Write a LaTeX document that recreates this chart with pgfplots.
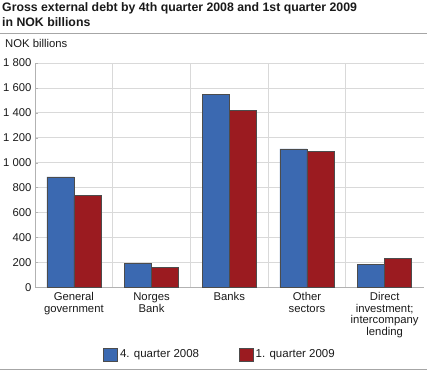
\documentclass[border=0pt]{standalone}
\usepackage{pgfplots}
\pgfplotsset{compat=1.18}
\usepackage{fontspec}
\setmainfont{Liberation Sans}
\definecolor{qblue}{HTML}{3B69B1}
\definecolor{qred}{HTML}{9B1B20}
\definecolor{gridc}{HTML}{D9D9D9}
\definecolor{txt}{HTML}{1A1A1A}
\begin{document}
\begin{tikzpicture}
\useasboundingbox (0,0) rectangle (427pt,-371pt);
\node[anchor=base west, font=\bfseries\fontsize{12.3}{15.4}\selectfont, inner sep=0pt, text=txt] at (2pt,-11.3pt) {Gross external debt by 4th quarter 2008 and 1st quarter 2009};
\node[anchor=base west, font=\bfseries\fontsize{12.3}{15.4}\selectfont, inner sep=0pt, text=txt] at (2pt,-26.7pt) {in NOK billions};
\draw[gray!70, line width=1pt] (0pt,-33.5pt) -- (427pt,-33.5pt);
\draw[gray!70, line width=1pt] (0pt,-369pt) -- (427pt,-369pt);
\node[anchor=base west, font=\fontsize{11.3}{12}\selectfont, inner sep=0pt, text=txt] at (5pt,-48pt) {NOK billions};
\begin{axis}[
  at={(35pt,-287.2pt)}, anchor=south west,
  scale only axis, width=388.5pt, height=224.2pt,
  xmin=-0.5, xmax=4.5, ymin=0, ymax=1800,
  ybar=0pt, bar width=27pt,
  xtick={0,1,2,3,4},
  xticklabels={General\\government, Norges\\Bank, Banks, Other\\sectors, Direct\\investment;\\intercompany\\lending},
  minor xtick={0.5,1.5,2.5,3.5},
  xminorgrids=true, xmajorgrids=false, ymajorgrids=true,
  grid style={draw=gridc, line width=0.8pt},
  minor grid style={draw=gridc, line width=0.8pt},
  ytick={0,200,...,1800},
  axis x line*=bottom, axis y line*=left,
  axis line style={draw=gray!60, line width=0.8pt, -},
  major tick length=3pt,
  xtick style={draw=none}, ytick style={draw=gray!60},
  minor tick length=0pt,
  tick label style={font=\fontsize{11.3}{11.5}\selectfont, text=txt},
  xticklabel style={align=center, yshift=1pt},
  /pgf/number format/assume math mode=true,
  /pgf/number format/1000 sep={\ },
  legend columns=2,
  legend style={at={(0.168,-0.301)}, anchor=west, draw=none, fill=none,
    font=\fontsize{11.5}{12}\selectfont, text=txt,
    /tikz/every even column/.append style={column sep=38pt}},
  legend image code/.code={\draw[#1] (0pt,-6.7pt) rectangle (14pt,6.7pt);},
  every axis plot/.append style={draw=black!70, line width=0.6pt},
]
\addplot[fill=qblue, draw=black!70] coordinates {(0,885) (1,188) (2,1548) (3,1110) (4,183)};
\addplot[fill=qred, draw=black!70] coordinates {(0,735) (1,157) (2,1418) (3,1090) (4,232)};
\legend{4. quarter 2008, 1. quarter 2009}
\end{axis}
\end{tikzpicture}
\end{document}
